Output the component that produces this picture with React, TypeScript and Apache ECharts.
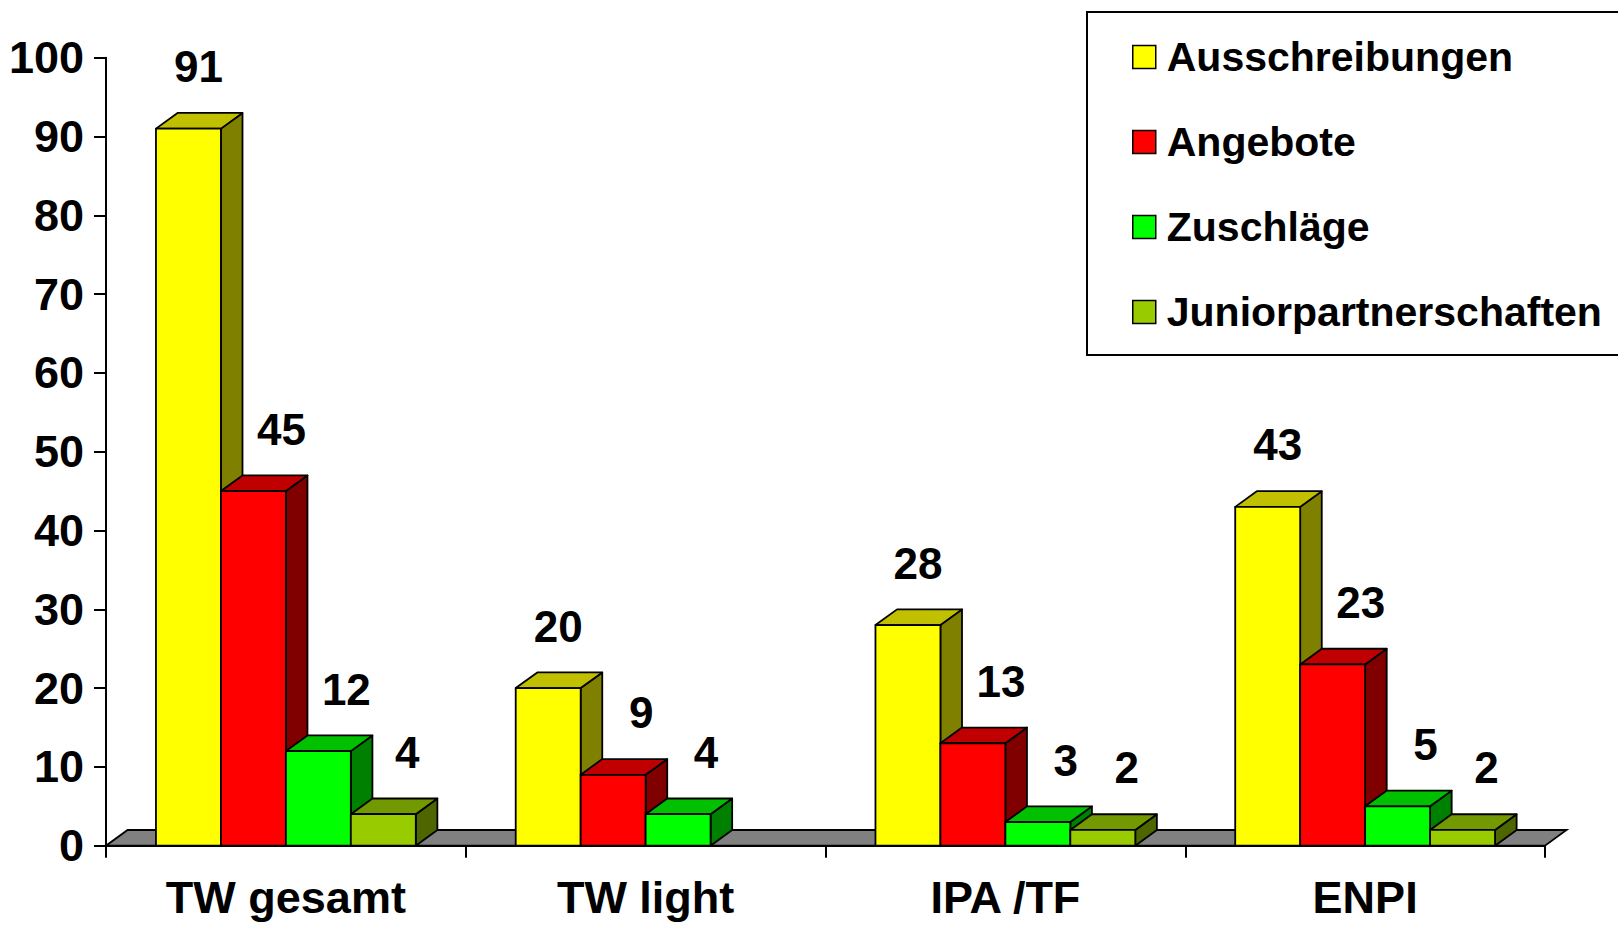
import React, { useEffect, useRef } from "react";
import * as echarts from "echarts";

const categories = ["TW gesamt", "TW light", "IPA /TF", "ENPI"];
const seriesNames = ["Ausschreibungen", "Angebote", "Zuschläge", "Juniorpartnerschaften"];
const ausschreibungen = [91, 20, 28, 43];
const angebote = [45, 9, 13, 23];
const zuschlaege = [12, 4, 3, 5];
const juniorpartnerschaften: (number | null)[] = [4, null, 2, 2];
const yTicks = { min: 0, max: 100, interval: 10 };

const seriesValues = [ausschreibungen, angebote, zuschlaege, juniorpartnerschaften];

const FRONT = ["#FFFF00", "#FF0000", "#00FF00", "#99CC00"];
const TOP = ["#C0C000", "#C00000", "#00C000", "#739900"];
const SIDE = ["#808000", "#800000", "#008000", "#4D6600"];

const FONT = "Arial, 'Liberation Sans', sans-serif";
const BAR_FRAC = 65 / 360;
const DEPTH_X = 21.6 / 360;
const DEPTH_Y = 15.7 / 360;
const LABEL_DX = [10, 28, 28, 24];
const LABEL_DY = -62;

export default function App() {
  const ref = useRef<HTMLDivElement>(null);
  useEffect(() => {
    if (!ref.current) return;
    const chart = echarts.init(ref.current, null, { renderer: "svg" });

    const floorSeries = {
      type: "custom",
      name: "floor",
      z: 1,
      silent: true,
      data: [[0, 0]],
      renderItem: (params: any, api: any) => {
        const band = api.size([1, 0])[0];
        const a = api.coord([0, 0]);
        const b = api.coord([categories.length - 1, 0]);
        const xl = a[0] - band / 2;
        const xr = b[0] + band / 2;
        const y = a[1];
        const dx = band * DEPTH_X;
        const dy = band * DEPTH_Y;
        return {
          type: "polygon",
          shape: { points: [[xl, y], [xr, y], [xr + dx, y - dy], [xl + dx, y - dy]] },
          style: { fill: "#808080", stroke: "#000", lineWidth: 1.8 },
        };
      },
    };

    const barSeries = seriesValues.map((vals, sIdx) => ({
      type: "custom",
      name: seriesNames[sIdx],
      z: 2,
      itemStyle: { color: FRONT[sIdx] },
      data: vals.map((v, i) => [i, v == null ? "-" : v]),
      renderItem: (params: any, api: any) => {
        const cat = api.value(0);
        const v = api.value(1);
        if (v == null || isNaN(v) || v <= 0) return null;
        const band = api.size([1, 0])[0];
        const base = api.coord([cat, 0]);
        const top = api.coord([cat, v]);
        const bw = band * BAR_FRAC;
        const x0 = base[0] - 2 * bw + sIdx * bw;
        const x1 = x0 + bw;
        const yb = base[1];
        const yt = top[1];
        const dx = band * DEPTH_X;
        const dy = band * DEPTH_Y;
        const stroke = { stroke: "#000", lineWidth: 1.8, lineJoin: "round" };
        return {
          type: "group",
          children: [
            {
              type: "polygon",
              shape: { points: [[x1, yt], [x1 + dx, yt - dy], [x1 + dx, yb - dy], [x1, yb]] },
              style: { fill: SIDE[sIdx], ...stroke },
            },
            {
              type: "polygon",
              shape: { points: [[x0, yt], [x1, yt], [x1 + dx, yt - dy], [x0 + dx, yt - dy]] },
              style: { fill: TOP[sIdx], ...stroke },
            },
            {
              type: "rect",
              shape: { x: x0, y: yt, width: bw, height: yb - yt },
              style: { fill: FRONT[sIdx], ...stroke },
            },
            {
              type: "text",
              z2: 100,
              x: x0 + bw / 2 + LABEL_DX[sIdx],
              y: yt + LABEL_DY,
              style: {
                text: String(v),
                fontSize: 44,
                fontWeight: "bold",
                fontFamily: FONT,
                fill: "#000",
                align: "center",
                verticalAlign: "middle",
              },
            },
          ],
        };
      },
    }));

    chart.setOption({
      animation: false,
      backgroundColor: "#fff",
      grid: { left: 106, right: 73, top: 57.7, bottom: 80.3, containLabel: false },
      legend: {
        data: seriesNames,
        orient: "vertical",
        left: 1087,
        top: 12,
        padding: [21, 60, 19, 45],
        itemGap: 37,
        itemWidth: 23,
        itemHeight: 23,
        icon: "rect",
        backgroundColor: "#fff",
        borderColor: "#000",
        borderWidth: 2,
        borderRadius: 0,
        itemStyle: { borderColor: "#000", borderWidth: 1.5 },
        textStyle: {
          fontSize: 41,
          fontWeight: "bold",
          fontFamily: FONT,
          color: "#000",
          lineHeight: 48,
          padding: [0, 0, 0, 6],
        },
      },
      xAxis: {
        type: "category",
        data: categories,
        axisLine: { lineStyle: { color: "#000", width: 2 } },
        axisTick: { show: true, length: 12, lineStyle: { color: "#000", width: 2 } },
        axisLabel: {
          fontSize: 45,
          fontWeight: "bold",
          fontFamily: FONT,
          color: "#000",
          margin: 29,
        },
        splitLine: { show: false },
      },
      yAxis: {
        type: "value",
        min: yTicks.min,
        max: yTicks.max,
        interval: yTicks.interval,
        axisLine: { show: true, lineStyle: { color: "#000", width: 2 } },
        axisTick: { show: true, length: 12, lineStyle: { color: "#000", width: 2 } },
        axisLabel: {
          fontSize: 45,
          fontWeight: "bold",
          fontFamily: FONT,
          color: "#000",
          margin: 22,
        },
        splitLine: { show: false },
      },
      series: [floorSeries, ...barSeries],
    });

    return () => chart.dispose();
  }, []);

  return (
    <div
      ref={ref}
      style={{ position: "absolute", left: 0, top: 0, width: 1618, height: 926 }}
    />
  );
}
